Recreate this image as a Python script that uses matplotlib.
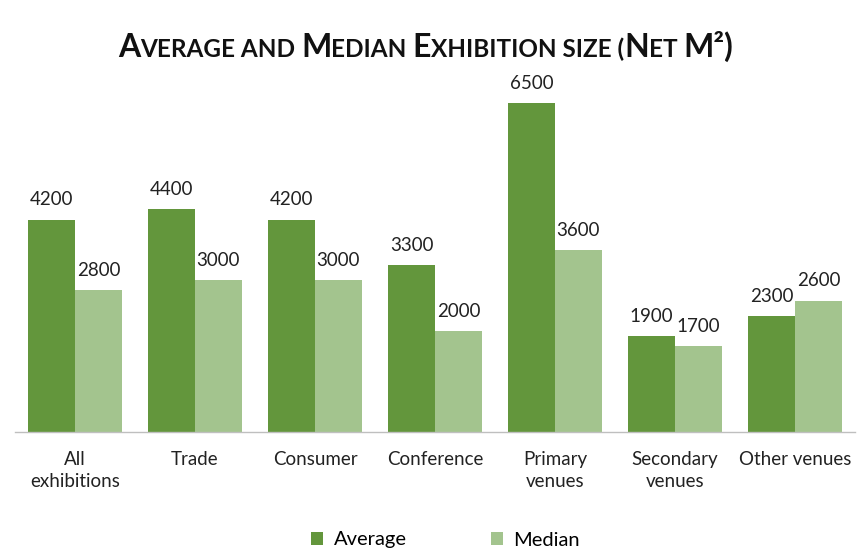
import matplotlib
matplotlib.use('Agg')
import matplotlib.pyplot as plt
import numpy as np

plt.rcParams['font.family'] = ['Lato', 'DejaVu Sans']

categories = ["All\nexhibitions", "Trade", "Consumer", "Conference",
              "Primary\nvenues", "Secondary\nvenues", "Other venues"]
average = [4200, 4400, 4200, 3300, 6500, 1900, 2300]
median = [2800, 3000, 3000, 2000, 3600, 1700, 2600]

c_avg = "#63963c"
c_med = "#a3c48e"

fig = plt.figure(figsize=(8.57, 5.52), dpi=100)
ax = fig.add_axes([15 / 857, 120 / 552, 840 / 857, 354 / 552])

x = np.arange(len(categories))
w = 0.39
b1 = ax.bar(x - w / 2, average, w, color=c_avg, label="Average")
b2 = ax.bar(x + w / 2, median, w, color=c_med, label="Median")

for bars, vals in ((b1, average), (b2, median)):
    for rect, v in zip(bars, vals):
        ax.annotate(str(v), (rect.get_x() + rect.get_width() / 2, v),
                    xytext=(0, 8), textcoords="offset points",
                    ha="center", va="bottom", fontsize=13.5, color="#222222")

ax.set_xlim(-0.5, len(categories) - 0.5)
ax.set_ylim(0, 7000)
ax.set_yticks([])
ax.set_xticks(x)
ax.set_xticklabels(categories, fontsize=13.5, color="#222222", linespacing=1.35)
ax.tick_params(axis="x", length=0, pad=14)
for side in ("top", "right", "left"):
    ax.spines[side].set_visible(False)
ax.spines["bottom"].set_color("#bfbfbf")
ax.spines["bottom"].set_linewidth(1.0)

fig.legend(handles=[b1, b2], loc="center", bbox_to_anchor=(0.52, 12 / 552),
           ncol=2, frameon=False, fontsize=14.5, handlelength=0.6, handleheight=0.6,
           columnspacing=4.2, handletextpad=0.5)

# small-caps title built from pieces of two sizes
segments = [("A", 23), ("VERAGE AND ", 17.5), ("M", 23), ("EDIAN ", 17.5),
            ("E", 23), ("XHIBITION SIZE (", 17.5), ("N", 23), ("ET ", 17.5),
            ("M\u00b2)", 23)]
renderer = fig.canvas.get_renderer()
texts = []
total = 0
for s, size in segments:
    t = fig.text(0, 0, s, fontsize=size, fontweight="bold", color="#111111",
                 va="baseline", ha="left")
    bb = t.get_window_extent(renderer)
    texts.append((t, bb.width))
    total += bb.width
xpos = (fig.bbox.width - total) / 2 - 3
ybase = 1 - 57 / 552
for t, wd in texts:
    t.set_position((xpos / fig.bbox.width, ybase))
    xpos += wd

fig.savefig("out.png", dpi=100)
